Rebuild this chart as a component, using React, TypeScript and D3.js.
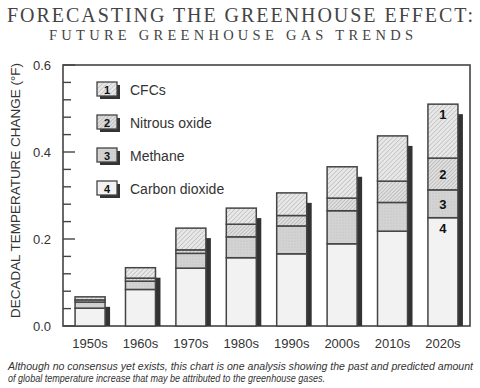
import React from 'react'
import * as d3 from 'd3'

const decades = ['1950s', '1960s', '1970s', '1980s', '1990s', '2000s', '2010s', '2020s']
const carbonDioxide = [0.041, 0.084, 0.133, 0.157, 0.166, 0.189, 0.218, 0.249]
const methane = [0.014, 0.019, 0.034, 0.048, 0.064, 0.076, 0.066, 0.064]
const nitrousOxide = [0.005, 0.007, 0.008, 0.029, 0.024, 0.029, 0.049, 0.073]
const cfcs = [0.007, 0.024, 0.050, 0.037, 0.052, 0.072, 0.104, 0.124]
const gasNames = ['CFCs', 'Nitrous oxide', 'Methane', 'Carbon dioxide']
const majorTicks = [0, 0.2, 0.4, 0.6]
const minorTicks = [0.04, 0.08, 0.12, 0.16, 0.24, 0.28, 0.32, 0.36, 0.44, 0.48, 0.52, 0.56]

const W = 480
const H = 388
const left = 63, right = 470, top = 65, bottom = 326
const sans = '"Liberation Sans", Arial, Helvetica, sans-serif'
const serif = '"Liberation Serif", "Times New Roman", serif'

// stacking order bottom -> top: CO2, methane, N2O, CFCs
const keys = ['co2', 'ch4', 'n2o', 'cfc']
const fills: Record<string, string> = {
  cfc: 'url(#hatchCfc)',
  n2o: 'url(#hatchN2o)',
  ch4: 'url(#dotCh4)',
  co2: '#f2f2f2',
}
const legendFill = ['url(#hatchCfc)', 'url(#hatchN2o)', 'url(#dotCh4)', '#f2f2f2']

const App = () => {
  const rows = decades.map((d, i) => ({
    decade: d,
    co2: carbonDioxide[i],
    ch4: methane[i],
    n2o: nitrousOxide[i],
    cfc: cfcs[i],
  }))
  const series = d3.stack<any>().keys(keys)(rows)

  const x = d3.scaleBand().domain(decades).range([65, 468]).paddingInner(0.405).paddingOuter(0.2)
  const y = d3.scaleLinear().domain([0, 0.6]).range([bottom, top])
  const bw = 30
  const bx = (d: string) => (x(d) as number) + x.bandwidth() / 2 - bw / 2

  const totals = rows.map(r => r.co2 + r.ch4 + r.n2o + r.cfc)
  const lastSeries = series.map(s => s[s.length - 1])
  const lastDecade = decades[decades.length - 1]

  return (
    <svg width={W} height={H} style={{ display: 'block', position: 'absolute', left: 0, top: 0, background: '#fff' }}>
      <defs>
        <pattern id="hatchCfc" width="3.2" height="3.2" patternUnits="userSpaceOnUse" patternTransform="rotate(45)">
          <rect width="3.2" height="3.2" fill="#e8e8e8" />
          <line x1="0" y1="0" x2="0" y2="3.2" stroke="#a3a3a3" strokeWidth="0.9" />
        </pattern>
        <pattern id="hatchN2o" width="2.6" height="2.6" patternUnits="userSpaceOnUse" patternTransform="rotate(45)">
          <rect width="2.6" height="2.6" fill="#e0e0e0" />
          <line x1="0" y1="0" x2="0" y2="2.6" stroke="#999" strokeWidth="0.9" />
        </pattern>
        <pattern id="dotCh4" width="3" height="3" patternUnits="userSpaceOnUse">
          <rect width="3" height="3" fill="#d3d3d3" />
          <circle cx="1" cy="1" r="0.6" fill="#bdbdbd" />
        </pattern>
      </defs>

      {/* title */}
      <text x={240} y={22} textAnchor="middle" fontFamily={serif} fontSize={20} fill="#444"
        textLength={466} lengthAdjust="spacing">FORECASTING THE GREENHOUSE EFFECT:</text>
      <text x={231} y={39.5} textAnchor="middle" fontFamily={serif} fontSize={14.5} fill="#444"
        textLength={364} lengthAdjust="spacing">FUTURE GREENHOUSE GAS TRENDS</text>

      {/* frame */}
      <rect x={left} y={top} width={right - left} height={bottom - top} fill="none" stroke="#444" strokeWidth={1.6} />

      {/* ticks */}
      {majorTicks.map(t => (
        <g key={'M' + t}>
          <line x1={left} x2={left + 12} y1={y(t)} y2={y(t)} stroke="#444" strokeWidth={1.4} />
          <text x={51} y={y(t) + 4.5} textAnchor="end" fontFamily={sans} fontSize={13} fill="#333">{t.toFixed(1)}</text>
        </g>
      ))}
      {minorTicks.map(t => (
        <line key={'m' + t} x1={left} x2={left + 8} y1={y(t)} y2={y(t)} stroke="#444" strokeWidth={1.4} />
      ))}

      <text transform={`translate(20,${(top + bottom) / 2 - 5}) rotate(-90)`} textAnchor="middle"
        fontFamily={sans} fontSize={12} fill="#333" textLength={255} lengthAdjust="spacingAndGlyphs">
        DECADAL TEMPERATURE CHANGE (°F)
      </text>

      {/* shadows */}
      {decades.map((d, i) => (
        <rect key={'sh' + d} x={bx(d) + bw} y={y(totals[i]) + 10} width={5} height={bottom - y(totals[i]) - 10} fill="#333" />
      ))}

      {/* stacked bars */}
      {series.map(s => (
        <g key={s.key}>
          {s.map((p, i) => (
            <rect key={decades[i]} x={bx(decades[i])} y={y(p[1])} width={bw} height={y(p[0]) - y(p[1])}
              fill={fills[s.key]} stroke="#444" strokeWidth={1.5} />
          ))}
        </g>
      ))}

      {/* segment numbers on last bar */}
      {lastSeries.map((p, i) => {
        const n = 4 - i
        const mid = n === 1 || n === 4 ? y(p[1]) + 15 : (y(p[0]) + y(p[1])) / 2 + 5
        return (
          <text key={'n' + n} x={bx(lastDecade) + bw / 2} y={mid} textAnchor="middle" fontFamily={sans}
            fontWeight="bold" fontSize={13} fill="#111">{n}</text>
        )
      })}

      {/* x labels */}
      {decades.map(d => (
        <text key={'x' + d} x={bx(d) + bw / 2} y={348} textAnchor="middle" fontFamily={sans} fontSize={13} fill="#333">{d}</text>
      ))}

      {/* legend */}
      {gasNames.map((g, i) => {
        const cy = 90 + i * 33
        return (
          <g key={g}>
            <rect x={100} y={cy - 5} width={20} height={14} fill="#333" />
            <rect x={97} y={cy - 8} width={20} height={14} fill={legendFill[i]} stroke="#444" strokeWidth={1.3} />
            <text x={107} y={cy + 3.5} textAnchor="middle" fontFamily={sans} fontWeight="bold" fontSize={11} fill="#111">{i + 1}</text>
            <text x={130} y={cy + 5} fontFamily={sans} fontSize={14} fill="#333">{g}</text>
          </g>
        )
      })}

      {/* caption */}
      <text x={8} y={370} fontFamily={sans} fontStyle="italic" fontSize={10.5} fill="#333" textLength={465}
        lengthAdjust="spacingAndGlyphs">Although no consensus yet exists, this chart is one analysis showing the past and predicted amount</text>
      <text x={8} y={382} fontFamily={sans} fontStyle="italic" fontSize={10.5} fill="#333" textLength={317}
        lengthAdjust="spacingAndGlyphs">of global temperature increase that may be attributed to the greenhouse gases.</text>
    </svg>
  )
}

export default App
